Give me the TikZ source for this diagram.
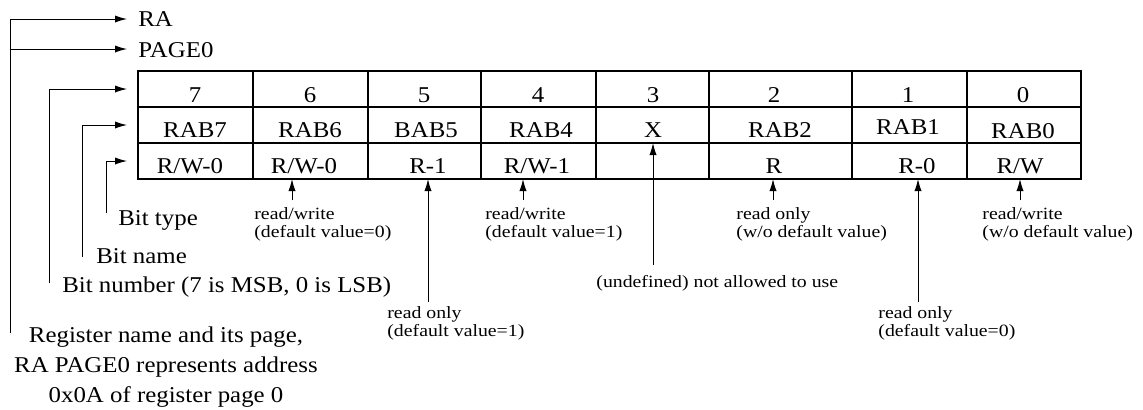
\documentclass[tikz,border=0pt]{standalone}
\usepackage{fontspec}
\setmainfont{Liberation Serif}
\newfontfamily\bigf[FakeStretch=1.1]{Liberation Serif}
\newfontfamily\smallf[FakeStretch=1.15]{Liberation Serif}
\usetikzlibrary{arrows.meta}
\begin{document}
\begin{tikzpicture}[x=0.5pt,y=-0.5pt,
  big/.style={font=\bigf\fontsize{11.3}{15}\selectfont, inner sep=0pt},
  small/.style={font=\smallf\fontsize{8.6}{9}\selectfont, inner sep=0pt, align=left},
  arr/.style={-{Latex[length=6pt,width=3.6pt]}, line width=0.5pt},
  gridline/.style={line width=0.6pt}]
\useasboundingbox (0,0) rectangle (1143,409);

% table
\draw[gridline] (138,71) rectangle (1081,179);
\draw[gridline] (138,107) -- (1081,107) (138,143) -- (1081,143);
\foreach \x in {253,368,481,596,709,852,967} \draw[gridline] (\x,71) -- (\x,179);

% row 1
\node[big,anchor=base] (b7) at (195,102) {7};
\node[big,anchor=base] (b6) at (310,102) {6};
\node[big,anchor=base] (b5) at (424,102) {5};
\node[big,anchor=base] (b4) at (538,102) {4};
\node[big,anchor=base] (b3) at (653,102) {3};
\node[big,anchor=base] (b2) at (774,102) {2};
\node[big,anchor=base] (b1) at (908,102) {1};
\node[big,anchor=base] (b0) at (1023,102) {0};
% row 2
\node[big,anchor=base] (n7) at (195,137) {RAB7};
\node[big,anchor=base] (n6) at (310,137) {RAB6};
\node[big,anchor=base] (n5) at (426,137) {BAB5};
\node[big,anchor=base] (n4) at (541,137) {RAB4};
\node[big,anchor=base] (n3) at (653,137) {X};
\node[big,anchor=base] (n2) at (780,137) {RAB2};
\node[big,anchor=base] (n1) at (908,134) {RAB1};
\node[big,anchor=base] (n0) at (1023,138) {RAB0};
% row 3
\node[big,anchor=base] (t7) at (190,173) {R/W-0};
\node[big,anchor=base] (t6) at (304,173) {R/W-0};
\node[big,anchor=base] (t5) at (428,173) {R-1};
\node[big,anchor=base] (t4) at (537,173) {R/W-1};
\node[big,anchor=base] (t2) at (774,173) {R};
\node[big,anchor=base] (t1) at (917,173) {R-0};
\node[big,anchor=base] (t0) at (1020,173) {R/W};

% top labels
\node[big,anchor=base west] (ra) at (138,26) {RA};
\node[big,anchor=base west] (pg) at (138,57) {PAGE0};

% left labels
\node[big,anchor=base west] (btype) at (118,225) {Bit type};
\node[big,anchor=base west] (bname) at (96,263) {Bit name};
\node[big,anchor=base west] (bnum) at (62,292) {Bit number (7 is MSB, 0 is LSB)};
\node[big,anchor=base,align=center] (reg) at (166,402) {Register name and its page,\\RA PAGE0 represents address\\0x0A of register page 0};

% left connectors
\coordinate (raS) at (10,333);
\coordinate (raT) at (127,19);
\coordinate (pgB) at (10,49);
\coordinate (pgT) at (127,49);
\coordinate (r1S) at (49,283);
\coordinate (r1T) at (127,89);
\coordinate (r2S) at (82,257);
\coordinate (r2T) at (127,125);
\coordinate (r3S) at (106,213);
\coordinate (r3T) at (127,161);
\draw[arr] (raS) |- (raT);
\draw[arr] (pgB) -- (pgT);
\draw[arr] (r1S) |- (r1T);
\draw[arr] (r2S) |- (r2T);
\draw[arr] (r3S) |- (r3T);

% bottom annotations
\node[small,anchor=base west] (a6) at (254,237) {read/write\\(default value=0)};
\node[small,anchor=base west] (a5) at (387,336) {read only\\(default value=1)};
\node[small,anchor=base west] (a4) at (485,237) {read/write\\(default value=1)};
\node[small,anchor=base west] (a3) at (596,287) {(undefined) not allowed to use};
\node[small,anchor=base west] (a2) at (736,237) {read only\\(w/o default value)};
\node[small,anchor=base west] (a1) at (878,336) {read only\\(default value=0)};
\node[small,anchor=base west] (a0) at (982,237) {read/write\\(w/o default value)};

\coordinate (s6) at (292,200); \coordinate (e6) at (292,179);
\coordinate (s5) at (428,302); \coordinate (e5) at (428,179);
\coordinate (s4) at (523,200); \coordinate (e4) at (523,179);
\coordinate (s3) at (653,265); \coordinate (e3) at (653,143);
\coordinate (s2) at (773,200); \coordinate (e2) at (773,179);
\coordinate (s1) at (918,302); \coordinate (e1) at (918,179);
\coordinate (s0) at (1020,200); \coordinate (e0) at (1020,179);
\foreach \i in {6,5,4,3,2,1,0} \draw[arr] (s\i) -- (e\i);
\end{tikzpicture}
\end{document}
